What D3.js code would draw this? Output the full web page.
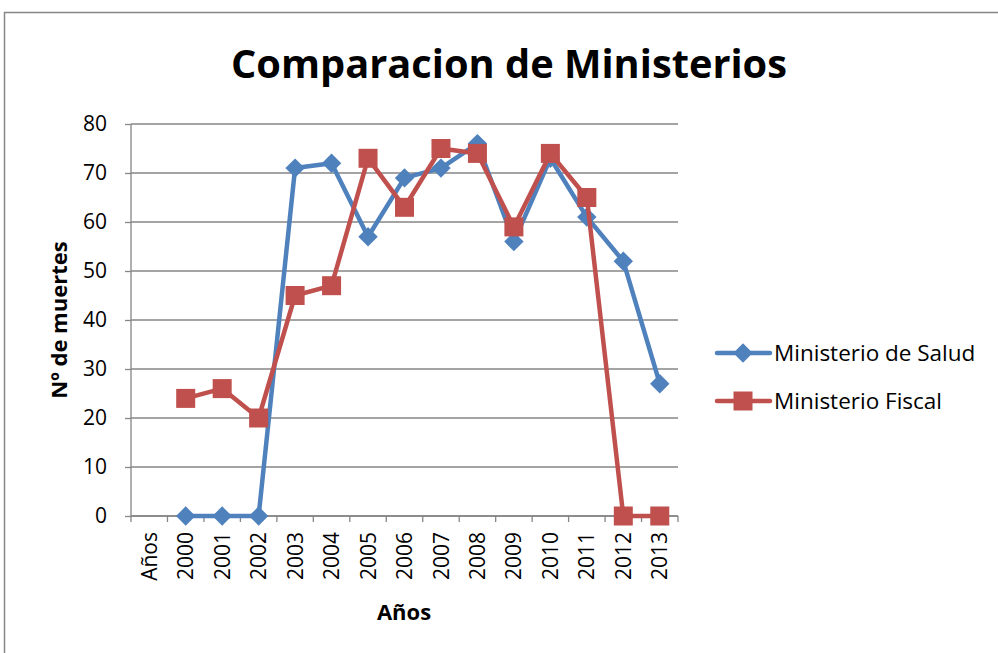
<!DOCTYPE html>
<html><head><meta charset="utf-8">
<script src="https://cdn.jsdelivr.net/npm/d3@7"></script>
<style>body{margin:0;background:#fff}svg{display:block}text{font-family:"Open Sans","Liberation Sans",sans-serif}</style>
</head><body>
<script>
const categories = ["Años","2000","2001","2002","2003","2004","2005","2006","2007","2008","2009","2010","2011","2012","2013"];
const salud  = [null,0,0,0,71,72,57,69,71,76,56,73,61,52,27];
const fiscal = [null,24,26,20,45,47,73,63,75,74,59,74,65,0,0];
const yTicks = [0,10,20,30,40,50,60,70,80];
const seriesNames = ["Ministerio de Salud","Ministerio Fiscal"];
const colors = ["#4F81BD","#C0504D"];

const W=998,H=653;
const svg=d3.select("body").append("svg").attr("width",W).attr("height",H);
svg.append("rect").attr("x",4.5).attr("y",12.5).attr("width",W).attr("height",H).attr("fill","#fff").attr("stroke","#868686").attr("stroke-width",1.5);

const L=131,R=678,T=124,B=516;
const x=d3.scaleBand().domain(categories).range([L,R]);
const y=d3.scaleLinear().domain([0,80]).range([B,T]);

// gridlines
svg.append("g").selectAll("line").data(yTicks).join("line")
 .attr("x1",L).attr("x2",R).attr("y1",d=>y(d)).attr("y2",d=>y(d))
 .attr("stroke","#868686").attr("stroke-width",1.3);

// y axis
const ya=svg.append("g").attr("transform",`translate(${L},0)`).call(d3.axisLeft(y).tickValues(yTicks).tickSize(6).tickPadding(18));
ya.select(".domain").attr("stroke","#868686").attr("stroke-width",1.3).attr("d",`M0,${T}V${B}`);
ya.selectAll(".tick line").attr("stroke","#868686").attr("stroke-width",1.3);
ya.selectAll("text").attr("font-size",21).attr("fill","#000");

// x axis
const xa=svg.append("g").attr("transform",`translate(0,${B})`).call(d3.axisBottom(x).tickSize(0));
xa.select(".domain").attr("stroke","#868686").attr("stroke-width",1.3).attr("d",`M${L},0H${R}`);
xa.selectAll(".tick line").remove();
xa.selectAll("text").attr("font-size",21).attr("fill","#000")
  .attr("transform","rotate(-90)").attr("text-anchor","end").attr("dy","0.36em").attr("x",-16).attr("y",0);
// category boundary ticks
const bounds=categories.map(c=>x(c)).concat([R]);
svg.append("g").selectAll("line").data(bounds).join("line")
 .attr("x1",d=>d).attr("x2",d=>d).attr("y1",B).attr("y2",B+6)
 .attr("stroke","#868686").attr("stroke-width",1.3);

const cx=c=>x(c)+x.bandwidth()/2;
const data=[salud,fiscal];
const line=d3.line().defined(d=>d.v!=null).x(d=>cx(d.c)).y(d=>y(d.v));
data.forEach((s,i)=>{
  const pts=categories.map((c,j)=>({c,v:s[j]}));
  svg.append("path").datum(pts).attr("d",line).attr("fill","none").attr("stroke",colors[i]).attr("stroke-width",4.5).attr("stroke-linejoin","round");
  const g=svg.append("g");
  pts.filter(d=>d.v!=null).forEach(d=>{
    if(i===0){
      g.append("path").attr("d",d3.symbol(d3.symbolDiamond2,240)()).attr("transform",`translate(${cx(d.c)},${y(d.v)})`).attr("fill",colors[i]);
    } else {
      g.append("rect").attr("x",cx(d.c)-9.5).attr("y",y(d.v)-9.5).attr("width",19).attr("height",19).attr("fill",colors[i]);
    }
  });
});

// titles
svg.append("text").attr("x",509).attr("y",78).attr("text-anchor","middle").attr("font-size",40).attr("font-weight","bold").attr("textLength",556).attr("lengthAdjust","spacingAndGlyphs").text("Comparacion de Ministerios");
svg.append("text").attr("transform","translate(67,320) rotate(-90)").attr("text-anchor","middle").attr("font-size",22).attr("font-weight","bold").text("Nº de muertes");
svg.append("text").attr("x",404).attr("y",620).attr("text-anchor","middle").attr("font-size",22).attr("font-weight","bold").text("Años");

// legend
seriesNames.forEach((n,i)=>{
  const ly=353+i*48;
  svg.append("line").attr("x1",717).attr("x2",770).attr("y1",ly).attr("y2",ly).attr("stroke",colors[i]).attr("stroke-width",4.5).attr("stroke-linecap","round");
  if(i===0) svg.append("path").attr("d",d3.symbol(d3.symbolDiamond2,240)()).attr("transform",`translate(743,${ly})`).attr("fill",colors[i]);
  else svg.append("rect").attr("x",733.5).attr("y",ly-9.5).attr("width",19).attr("height",19).attr("fill",colors[i]);
  svg.append("text").attr("x",774).attr("y",ly).attr("dy","0.36em").attr("font-size",22.5).text(n);
});
</script>
</body></html>
